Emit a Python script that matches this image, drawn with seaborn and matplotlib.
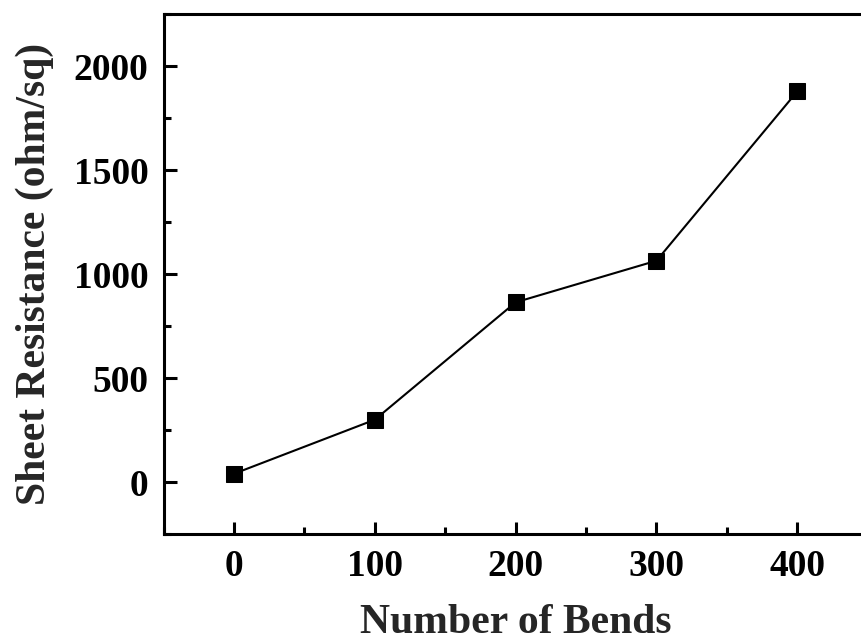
import matplotlib
matplotlib.use("Agg")
import matplotlib.pyplot as plt
import seaborn as sns
import pandas as pd
from matplotlib.ticker import MultipleLocator

# values
bends = [0, 100, 200, 300, 400]
resistance = [40, 300, 865, 1065, 1880]

df = pd.DataFrame({"bends": bends, "resistance": resistance})

sns.set_style("ticks")
plt.rcParams["font.family"] = ["Liberation Serif", "DejaVu Serif"]
plt.rcParams["font.weight"] = "bold"

fig = plt.figure(figsize=(8.61, 6.43), dpi=100)
ax = fig.add_axes([0.19, 0.1695, 0.8178, 0.808])

sns.lineplot(data=df, x="bends", y="resistance", ax=ax, color="black",
             linewidth=1.5, marker="s", markersize=12, markeredgecolor="black",
             markerfacecolor="black")

ax.set_xlim(-50, 450)
ax.set_ylim(-250, 2250)
ax.xaxis.set_major_locator(MultipleLocator(100))
ax.xaxis.set_minor_locator(MultipleLocator(50))
ax.yaxis.set_major_locator(MultipleLocator(500))
ax.yaxis.set_minor_locator(MultipleLocator(250))

ax.tick_params(which="both", direction="in", width=2.2, labelsize=27, colors="black")
ax.tick_params(which="major", length=9, pad=11)
ax.tick_params(which="minor", length=5)
ax.tick_params(top=False, right=False, which="both")
for lab in ax.get_xticklabels() + ax.get_yticklabels():
    lab.set_fontweight("bold")

for sp in ax.spines.values():
    sp.set_linewidth(2.2)
    sp.set_color("black")
    sp.set_visible(True)

ax.set_xlabel("Number of Bends", fontsize=30, fontweight="bold", labelpad=14)
ax.set_ylabel("Sheet Resistance (ohm/sq)", fontsize=30, fontweight="bold", labelpad=14)

fig.savefig("out.png", dpi=100)
